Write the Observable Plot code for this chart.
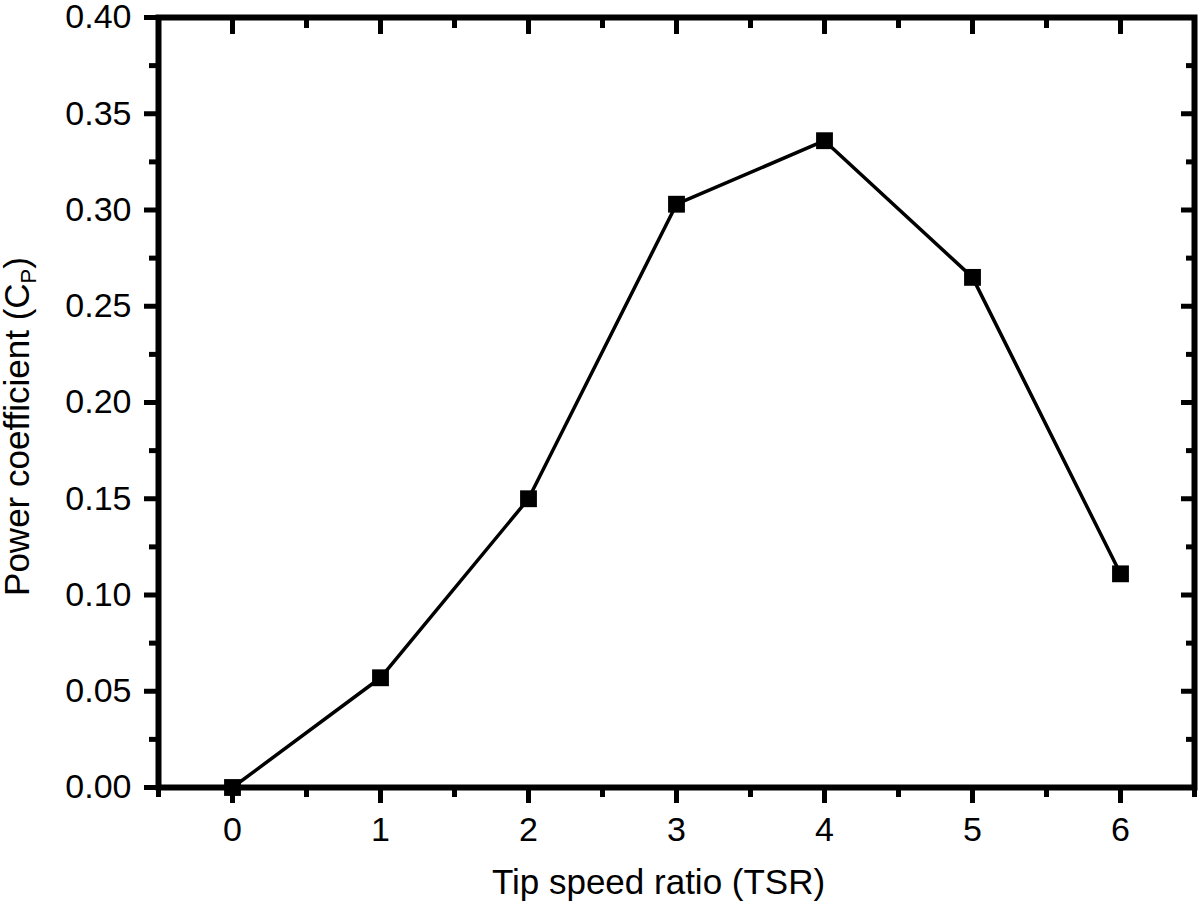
<!DOCTYPE html>
<html>
<head>
<meta charset="utf-8">
<script src="https://cdn.jsdelivr.net/npm/d3@7"></script>
<script src="https://cdn.jsdelivr.net/npm/@observablehq/plot@0.6"></script>
<style>
  html, body { margin: 0; padding: 0; background: #fff; }
  #chart { width: 1200px; height: 906px; }
</style>
</head>
<body>
<div id="chart"></div>
<script>
// ---- data ----
const tsr = [0, 1, 2, 3, 4, 5, 6];
const cp = [0.0, 0.057, 0.150, 0.303, 0.336, 0.265, 0.111];

const xTicks = [0, 1, 2, 3, 4, 5, 6];
const xMinorTicks = [-0.5, 0.5, 1.5, 2.5, 3.5, 4.5, 5.5, 6.5];
const yTicks = [0.00, 0.05, 0.10, 0.15, 0.20, 0.25, 0.30, 0.35, 0.40];
const yMinorTicks = [0.025, 0.075, 0.125, 0.175, 0.225, 0.275, 0.325, 0.375];

const xLabel = "Tip speed ratio (TSR)";
const yLabelMain = "Power coefficient (C";
const yLabelSub = "P";
const yLabelEnd = ")";

const data = tsr.map((x, i) => ({tsr: x, cp: cp[i]}));
const fullYLabel = yLabelMain + yLabelSub + yLabelEnd;

const font = "'Liberation Sans', Arial, Helvetica, sans-serif";
const blank = () => "";
const tickW = 5;
const frameW = 6;

const svg = Plot.plot({
  width: 1200,
  height: 906,
  marginLeft: 158,
  marginRight: 6,
  marginTop: 17,
  marginBottom: 119,
  style: {fontFamily: font, fontSize: "34px", color: "#000", background: "#fff", overflow: "visible"},
  x: {domain: [-0.5, 6.5]},
  y: {domain: [0, 0.4]},
  marks: [
    // bottom axis (outward)
    Plot.axisX(xTicks, {anchor: "bottom", tickSize: 16, tickPadding: 13, strokeWidth: tickW, fontSize: 34, label: null, tickFormat: d => String(d)}),
    Plot.axisX(xMinorTicks, {anchor: "bottom", tickSize: 10, strokeWidth: tickW, label: null, tickFormat: blank}),
    // top axis (inward)
    Plot.axisX(xTicks, {anchor: "top", tickSize: -16, strokeWidth: tickW, label: null, tickFormat: blank}),
    Plot.axisX(xMinorTicks, {anchor: "top", tickSize: -10, strokeWidth: tickW, label: null, tickFormat: blank}),
    // left axis (outward)
    Plot.axisY(yTicks, {anchor: "left", tickSize: 14, tickPadding: 13, strokeWidth: tickW, fontSize: 34, label: null, tickFormat: d3.format(".2f")}),
    Plot.axisY(yMinorTicks, {anchor: "left", tickSize: 9, strokeWidth: tickW, label: null, tickFormat: blank}),
    // right axis (inward)
    Plot.axisY(yTicks, {anchor: "right", tickSize: -14, strokeWidth: tickW, label: null, tickFormat: blank}),
    Plot.axisY(yMinorTicks, {anchor: "right", tickSize: -9, strokeWidth: tickW, label: null, tickFormat: blank}),
    Plot.frame({stroke: "#000", strokeWidth: frameW}),
    Plot.line(data, {x: "tsr", y: "cp", stroke: "#000", strokeWidth: 3.5}),
    Plot.dot(data, {x: "tsr", y: "cp", symbol: "square", r: 9.5, fill: "#000", stroke: "none"}),
    // axis titles
    Plot.text([xLabel], {text: d => d, frameAnchor: "bottom", textAnchor: "middle", lineAnchor: "bottom", dy: 106, dx: -18, fontSize: 35, fill: "#000"}),
    Plot.text([fullYLabel], {text: d => d, frameAnchor: "left", textAnchor: "middle", lineAnchor: "bottom", rotate: -90, dx: -130, dy: 24, fontSize: 35, fill: "#000"})
  ]
});

const root = d3.select(svg);

// make sure the heavy frame and tick strokes are applied
root.selectAll('g[aria-label="frame"], g[aria-label="frame"] rect')
  .attr("stroke-width", frameW).style("stroke-width", frameW + "px");
root.selectAll('g[aria-label="x-axis tick"], g[aria-label="y-axis tick"]')
  .attr("stroke-width", tickW).style("stroke-width", tickW + "px");
root.selectAll('g[aria-label="x-axis tick"] path, g[aria-label="y-axis tick"] path')
  .style("stroke-width", tickW + "px");

// subscript P in the y-axis title
root.selectAll("text")
  .filter(function() { return this.textContent === fullYLabel; })
  .each(function() {
    const t = d3.select(this);
    t.text(null);
    t.append("tspan").text(yLabelMain);
    t.append("tspan").attr("font-size", "22px").attr("dy", 7).text(yLabelSub);
    t.append("tspan").attr("dy", -7).text(yLabelEnd);
  });

document.getElementById("chart").appendChild(svg);
</script>
</body>
</html>
